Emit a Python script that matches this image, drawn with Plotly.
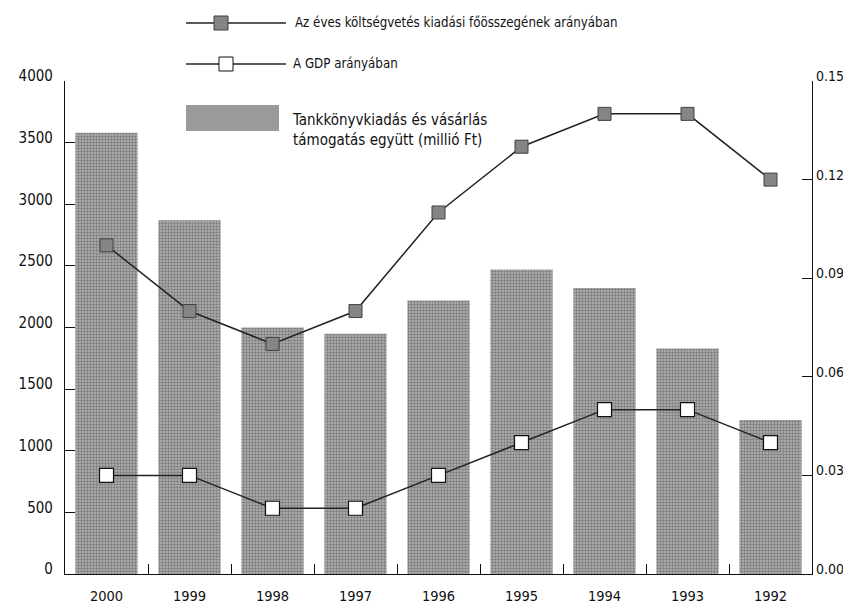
import plotly.graph_objects as go

years = ["2000", "1999", "1998", "1997", "1996", "1995", "1994", "1993", "1992"]
support_mft = [3580, 2870, 2000, 1950, 2220, 2470, 2320, 1830, 1250]
budget_share = [0.10, 0.08, 0.07, 0.08, 0.11, 0.13, 0.14, 0.14, 0.12]
gdp_share = [0.03, 0.03, 0.02, 0.02, 0.03, 0.04, 0.05, 0.05, 0.04]

name_budget = "Az éves költségvetés kiadási főösszegének arányában"
name_gdp = "A GDP arányában"
name_bar = "Tankkönyvkiadás és vásárlás<br>támogatás együtt (millió Ft)"

W, H = 851, 609
ML, MR, MT, MB = 57, 47, 73, 43
PW = W - ML - MR
PH = H - MT - MB
FONT = "DejaVu Sans Condensed, Liberation Sans Narrow, sans-serif"


def px(x):
    return (x - ML) / PW


def py(y):
    return (H - MB - y) / PH


fig = go.Figure()
fig.add_trace(go.Bar(
    x=years, y=support_mft, name=name_bar,
    marker=dict(color="#acacac", line=dict(width=0),
                pattern=dict(shape=".", fgcolor="#444444", bgcolor="#b4b4b4",
                             size=3, solidity=0.5)),
    yaxis="y", showlegend=False,
))
fig.add_trace(go.Scatter(
    x=years, y=budget_share, name=name_budget, mode="lines+markers",
    line=dict(color="#222222", width=1.5),
    marker=dict(symbol="square", size=13, color="#858585",
                line=dict(color="#404040", width=1)),
    yaxis="y2", showlegend=False,
))
fig.add_trace(go.Scatter(
    x=years, y=gdp_share, name=name_gdp, mode="lines+markers",
    line=dict(color="#222222", width=1.5),
    marker=dict(symbol="square", size=14, color="white",
                line=dict(color="#111111", width=1.2)),
    yaxis="y2", showlegend=False,
))

shapes = []
annotations = []
# legend rows (manual)
rows = [(15, 213, "#858585", "#404040", name_budget, 285),
        (56, 218, "white", "#111111", name_gdp, 283)]
for yy, mx, fc, lc, txt, tx in rows:
    shapes.append(dict(type="line", xref="paper", yref="paper",
                       x0=px(178), x1=px(278), y0=py(yy), y1=py(yy),
                       line=dict(color="#222222", width=1.5)))
    shapes.append(dict(type="rect", xref="paper", yref="paper",
                       x0=px(mx - 7), x1=px(mx + 7), y0=py(yy - 7), y1=py(yy + 7),
                       fillcolor=fc, line=dict(color=lc, width=1)))
    annotations.append(dict(xref="paper", yref="paper", x=px(tx), y=py(yy),
                            xanchor="left", yanchor="middle", text=txt,
                            showarrow=False, font=dict(size=13.2, color="#111111", family=FONT)))
shapes.append(dict(type="rect", xref="paper", yref="paper",
                   x0=px(178), x1=px(271), y0=py(123), y1=py(97),
                   fillcolor="#9a9a9a", line=dict(width=0), layer="above"))
annotations.append(dict(xref="paper", yref="paper", x=px(282), y=py(122),
                        xanchor="left", yanchor="middle", align="left", text=name_bar,
                        showarrow=False, font=dict(size=15, color="#111111", family=FONT)))

fig.update_layout(
    width=W, height=H,
    margin=dict(l=ML, r=MR, t=MT, b=MB, pad=0, autoexpand=False),
    paper_bgcolor="white", plot_bgcolor="white",
    font=dict(family=FONT, size=15, color="#111111"),
    bargap=0.25,
    shapes=shapes, annotations=annotations,
    xaxis=dict(type="category", range=[-0.5, 8.5], showline=True, linecolor="#111111",
               linewidth=1.2, ticks="inside", tickson="boundaries", ticklen=10,
               tickcolor="#111111", showgrid=False, zeroline=False, automargin=False,
               tickfont=dict(size=14.5), ticklabelstandoff=8),
    yaxis=dict(range=[0, 4000], dtick=500, showline=True, linecolor="#111111",
               linewidth=1.2, ticks="inside", ticklen=10, tickcolor="#111111",
               showgrid=False, zeroline=False, ticklabelstandoff=8, automargin=False,
               ticklabelshift=-5, tickfont=dict(size=15)),
    yaxis2=dict(range=[0, 0.15], dtick=0.03, tickformat=".2f", overlaying="y",
                side="right", showline=True, linecolor="#111111", linewidth=1.2,
                ticks="inside", ticklen=10, tickcolor="#111111", showgrid=False,
                zeroline=False, ticklabelstandoff=0, ticklabelshift=-5, automargin=False,
                tickfont=dict(size=14)),
)

fig.write_html("out.html")
